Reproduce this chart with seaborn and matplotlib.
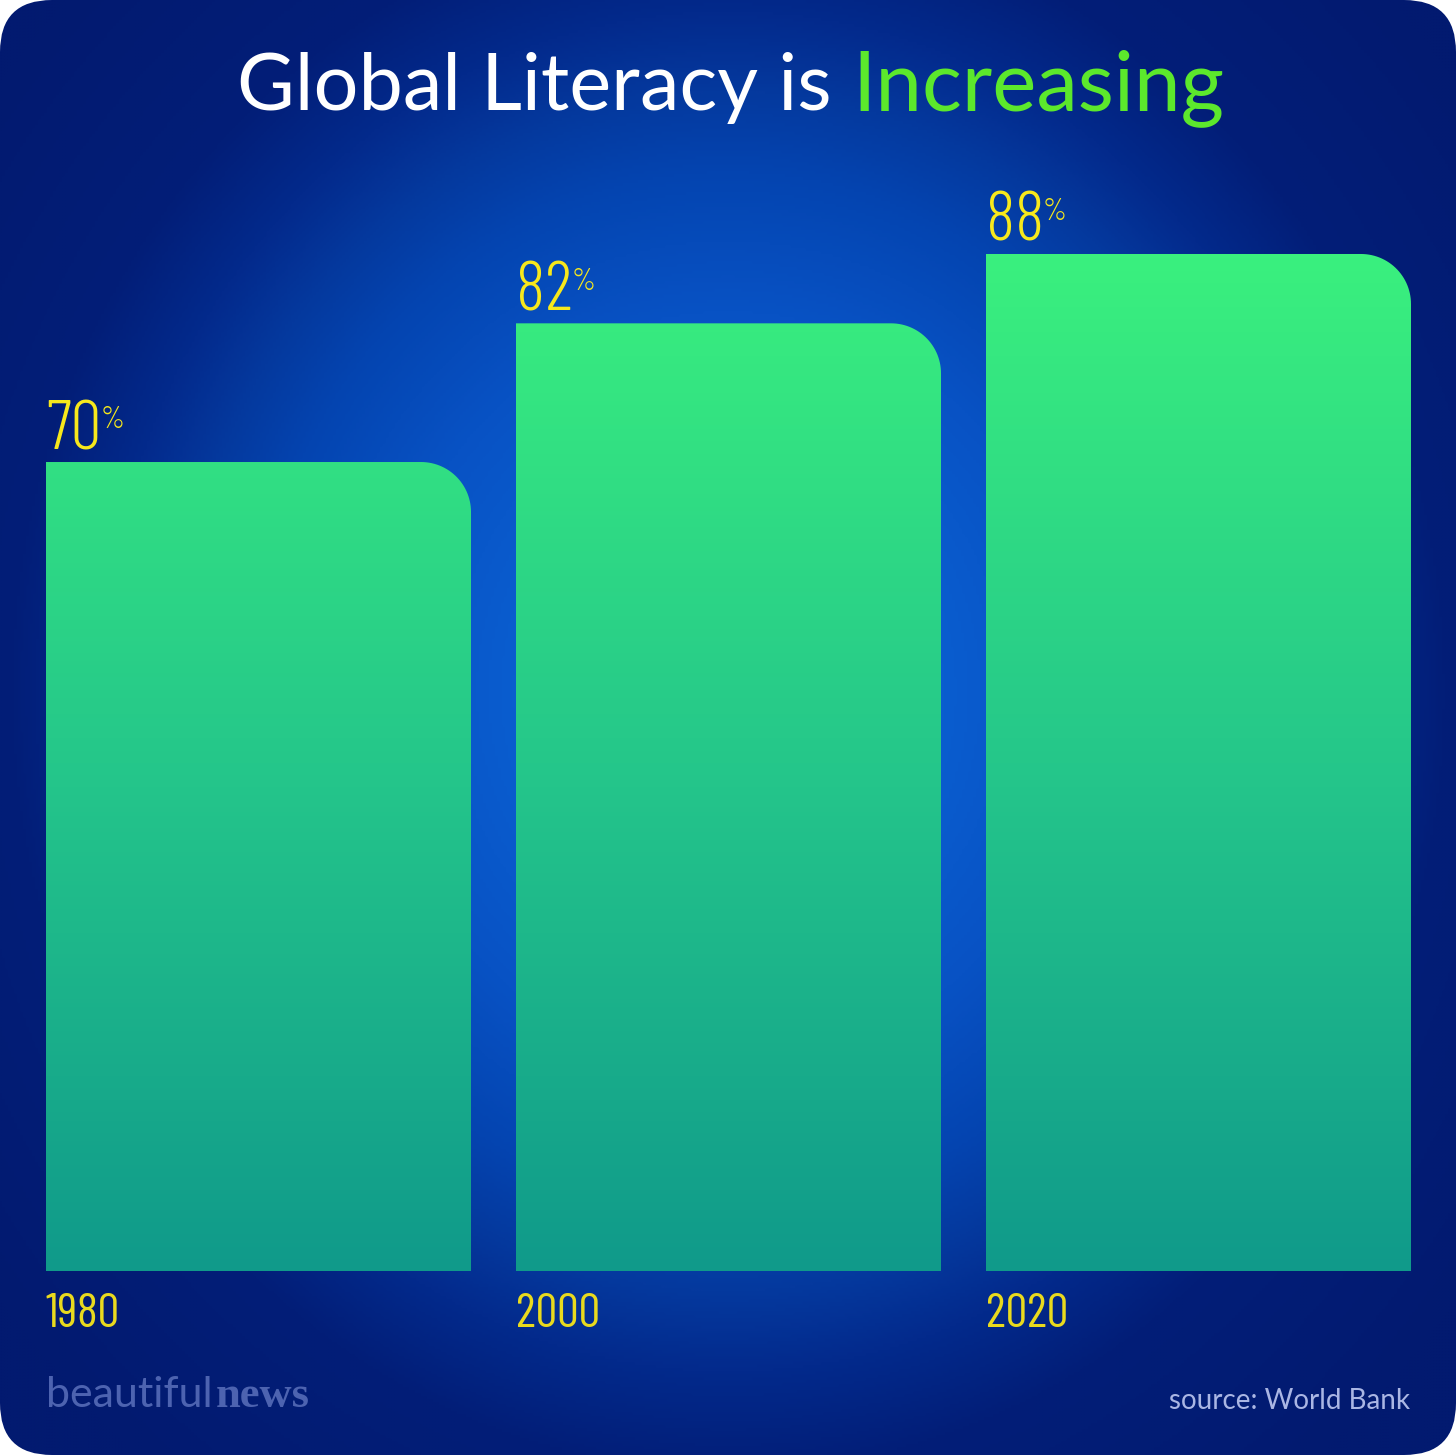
"""Global literacy bar chart with rounded gradient bars."""
import numpy as np
import seaborn as sns
import matplotlib.pyplot as plt
from matplotlib.patches import FancyBboxPatch, PathPatch
from matplotlib.path import Path
from matplotlib.colors import LinearSegmentedColormap

# Data
YEARS = ["1980", "2000", "2020"]
LITERACY = [70, 82, 88]

# Figure geometry (pixels)
W, H = 1456, 1455
BAR_W = 0.9043
YMAX = 100
AX_L, AX_R, AX_B = 46, 1411, 1271
PX_PER_UNIT_Y = 11.557
AX_H = YMAX * PX_PER_UNIT_Y
PX_PER_UNIT_X = (AX_R - AX_L) / (2 + BAR_W)

sns.set_style("white")
NARROW = ["Barlow Condensed", "DejaVu Sans"]

fig = plt.figure(figsize=(W / 100, H / 100), dpi=100)
fig.patch.set_facecolor("white")

# Background: radial blue glow inside a rounded card
bg = fig.add_axes([0, 0, 1, 1])
bg.set_xlim(0, W)
bg.set_ylim(H, 0)
bg.axis("off")
yy, xx = np.mgrid[0:H:3, 0:W:3]
r = np.hypot((xx - 728) / 920, (yy - 690) / 1000)
bg_cmap = LinearSegmentedColormap.from_list("bg", [
    (0.0, "#0a66dc"), (0.22, "#0a5ed0"), (0.38, "#0852c4"), (0.52, "#0444b0"),
    (0.6, "#05399e"), (0.68, "#032a8c"), (0.78, "#021e78"), (1.0, "#021a70")])
im = bg.imshow(np.clip(r, 0, 1), cmap=bg_cmap, extent=(0, W, H, 0), vmin=0, vmax=1)
card = FancyBboxPatch((0, 0), W, H, boxstyle="round,pad=0,rounding_size=52",
                      fc="none", ec="none", transform=bg.transData)
bg.add_patch(card)
im.set_clip_path(card)

# Bars
ax = fig.add_axes([AX_L / W, (H - AX_B) / H, (AX_R - AX_L) / W, AX_H / H])
ax.patch.set_alpha(0)
sns.barplot(x=YEARS, y=LITERACY, ax=ax, width=BAR_W, color="#2ad580")

bar_cmap = LinearSegmentedColormap.from_list("bar", ["#109a8a", "#25c78a", "#3af07e"])
rx = 50 / PX_PER_UNIT_X
ry = 50 / PX_PER_UNIT_Y
grad = np.linspace(0, 1, 256)[:, None]

for patch, year, val in zip(list(ax.patches), YEARS, LITERACY):
    x0, w, h = patch.get_x(), patch.get_width(), patch.get_height()
    x1 = x0 + w
    patch.set_visible(False)
    t = np.linspace(np.pi / 2, 0, 30)
    arc = np.column_stack([x1 - rx + rx * np.cos(t), h - ry + ry * np.sin(t)])
    verts = np.vstack([[x0, 0], [x0, h], arc, [x1, 0], [x0, 0]])
    codes = [Path.MOVETO] + [Path.LINETO] * (len(verts) - 2) + [Path.CLOSEPOLY]
    clip = PathPatch(Path(verts, codes), fc="none", ec="none", transform=ax.transData)
    ax.add_patch(clip)
    img = ax.imshow(grad * 90, cmap=bar_cmap, vmin=0, vmax=88, origin="lower",
                    extent=(x0, x1, 0, 90), aspect="auto")
    img.set_clip_path(clip)

    num = ax.text(x0, h + 13 / PX_PER_UNIT_Y, f"{val}", color="#f7e81c",
                  fontsize=50, family=NARROW, fontweight=300,
                  ha="left", va="baseline")
    ax.annotate("%", xy=(0.98, 0.9), xycoords=num, color="#f7e81c",
                fontsize=22, family=NARROW, fontweight=300, ha="left", va="top")
    ax.text(x0, -56 / PX_PER_UNIT_Y, year, color="#e9da1e", fontsize=35,
            family=NARROW, fontweight=400, ha="left", va="baseline")

ax.set_xlim(-BAR_W / 2, 2 + BAR_W / 2)
ax.set_ylim(0, YMAX)
ax.axis("off")

# Title in two colours
fig.text(832 / W, 1 - 110 / H, "Global Literacy is", color="white", fontsize=57,
         family="Lato", ha="right", va="baseline")
fig.text(852 / W, 1 - 110 / H, "Increasing", color="#5ce82c", fontsize=60,
         family="Lato", ha="left", va="baseline")

# Footer
fig.text(46 / W, 1 - 1407 / H, "beautiful", color="#4d63b0", fontsize=31,
         family="Lato", ha="left", va="baseline")
fig.text(216 / W, 1 - 1407 / H, "news", color="#4d63b0", fontsize=32,
         family="Liberation Serif", fontweight="bold", ha="left", va="baseline")
fig.text(1410 / W, 1 - 1409 / H, "source: World Bank", color="#aab6e4", fontsize=20,
         family="Lato", ha="right", va="baseline")

fig.savefig("out.png", dpi=100, facecolor="white")
